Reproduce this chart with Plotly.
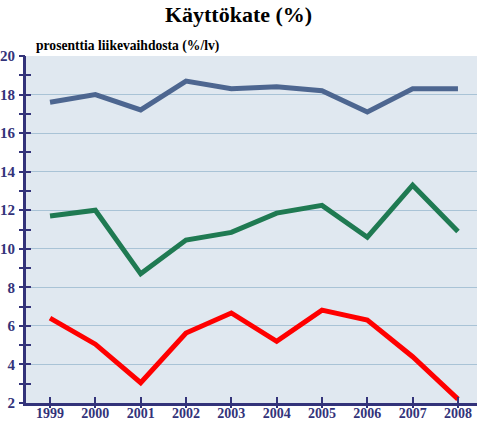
import plotly.graph_objects as go

years = [1999, 2000, 2001, 2002, 2003, 2004, 2005, 2006, 2007, 2008]
blue_vals = [17.6, 18.0, 17.2, 18.7, 18.3, 18.4, 18.2, 17.1, 18.3, 18.3]
green_vals = [11.7, 12.0, 8.7, 10.45, 10.85, 11.85, 12.25, 10.6, 13.3, 10.9]
red_vals = [6.4, 5.05, 3.05, 5.63, 6.67, 5.2, 6.82, 6.3, 4.4, 2.2]
y_ticks = [2, 4, 6, 8, 10, 12, 14, 16, 18, 20]
y_minor = [3, 5, 7, 9, 11, 13, 15, 17, 19]

navy = "#33337a"
font_serif = "Liberation Serif, Times New Roman, serif"

fig = go.Figure()
for vals, col in [(blue_vals, "#4d6690"), (green_vals, "#1f7a52"), (red_vals, "#ff0000")]:
    fig.add_trace(go.Scatter(x=years, y=vals, mode="lines",
                             line=dict(color=col, width=5), showlegend=False))

fig.add_trace(go.Scatter(x=years, y=blue_vals, mode="lines", line=dict(width=0),
                         xaxis="x2", yaxis="y2", showlegend=False, hoverinfo="skip",
                         opacity=0))

xr = [1998.47, 2008.42]
yr = [2, 20]
tf_y = dict(family=font_serif, size=15, color=navy, weight="bold")
tf_x = dict(family=font_serif, size=14, color=navy, weight="bold")
fig.update_layout(
    width=477, height=421,
    margin=dict(l=26, r=0, t=56, b=18, autoexpand=False),
    paper_bgcolor="white",
    plot_bgcolor="#e0e8f0",
    title=dict(text="<b>Käyttökate (%)</b>", x=0.5, xanchor="center", y=0.985, yanchor="top",
               font=dict(family=font_serif, size=22, color="black")),
    xaxis=dict(range=xr, tickvals=years, ticktext=[str(y) for y in years],
               showgrid=False, zeroline=False, showline=True, linecolor=navy, linewidth=3,
               ticks="inside", ticklen=6, tickwidth=2, tickcolor=navy, automargin=False,
               tickfont=tf_x, ticklabelstandoff=-5),
    yaxis=dict(range=yr, tickvals=y_ticks, showgrid=True, gridcolor="#a9c3d6", gridwidth=1,
               zeroline=False, showline=True, linecolor=navy, linewidth=3, automargin=False,
               ticks="inside", ticklen=5, tickwidth=2, tickcolor=navy,
               tickfont=tf_y, ticklabelstandoff=5,
               minor=dict(tickvals=y_minor, ticks="inside",
                          ticklen=5, tickwidth=2, tickcolor=navy, showgrid=False)),
    xaxis2=dict(range=xr, overlaying="x", tickvals=years, showticklabels=False,
                showgrid=False, zeroline=False, ticks="outside", ticklen=4, tickwidth=2,
                tickcolor=navy, anchor="y2", side="bottom", automargin=False),
    yaxis2=dict(range=yr, overlaying="y", tickvals=y_ticks, showticklabels=False,
                showgrid=False, zeroline=False, ticks="outside", ticklen=6, tickwidth=2,
                tickcolor=navy, anchor="x2", side="left", automargin=False,
                minor=dict(tickvals=y_minor, ticks="outside",
                           ticklen=6, tickwidth=2, tickcolor=navy)),
    annotations=[dict(text="<b>prosenttia liikevaihdosta (%/lv)</b>", xref="paper", yref="paper",
                      x=0.018, y=1.0, xanchor="left", yanchor="bottom", showarrow=False,
                      yshift=0,
                      font=dict(family=font_serif, size=13.6, color="black"))],
)
fig.write_html("out.html", post_script="document.body.style.margin='0';",
               config={"displayModeBar": False})
